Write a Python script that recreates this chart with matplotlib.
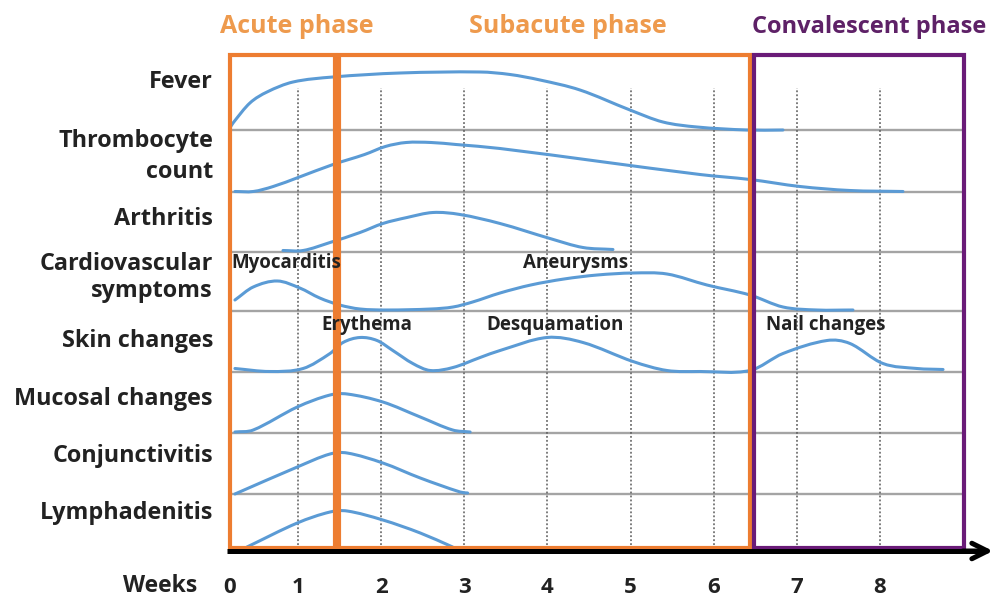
import matplotlib
matplotlib.use("Agg")
import matplotlib.pyplot as plt
from matplotlib.path import Path
from matplotlib.patches import PathPatch, Rectangle
import numpy as np

plt.rcParams['font.family'] = ['Open Sans', 'DejaVu Sans']

# ---------------- data (weeks, height in px above the row baseline) ----------------
row_labels = ["Fever", "Thrombocyte\ncount", "Arthritis", "Cardiovascular\nsymptoms",
              "Skin changes", "Mucosal changes", "Conjunctivitis", "Lymphadenitis"]

fever_w = [0.18, 0.217, 0.42, 0.626, 0.939, 1.42, 2.226, 3.189, 3.55, 3.911, 4.392, 4.994, 5.39, 5.80, 6.402, 6.835]
fever_h = [2, 7, 27, 38, 48, 53, 57, 58, 55.5, 50, 40, 20, 8, 3, 0, 0]

thrombo_w = [0.24, 0.46, 0.70, 1.0, 1.42, 1.80, 2.05, 2.3, 2.6, 2.9, 3.43, 4.633, 5.836, 6.438, 7.04, 7.641, 8.279]
thrombo_h = [0, 0, 5, 14, 27, 37, 45, 49, 49, 47, 43, 30, 17, 12, 5, 1, 0]

arthritis_w = [0.818, 1.06, 1.384, 1.745, 2.02, 2.31, 2.623, 2.948, 3.43, 4.031, 4.428, 4.789]
arthritis_h = [1, 1, 9, 19, 28, 34, 39, 37, 28, 13, 4, 2]

cardio_w = [0.24, 0.46, 0.75, 1.02, 1.26, 1.50, 1.745, 2.07, 2.6, 2.864, 3.10, 3.43, 3.8, 4.2, 4.6, 5.03,
            5.439, 5.92, 6.438, 6.835, 7.244, 7.677]
cardio_h = [11, 24, 30, 23, 13, 6, 2, 1, 2, 4, 9, 18, 26, 32, 36, 38, 37, 26, 16, 4, 1, 1]

skin_w = [0.24, 0.66, 1.06, 1.384, 1.54, 1.745, 1.95, 2.14, 2.38, 2.59, 2.864, 3.19, 3.43, 3.995, 4.428,
          5.03, 5.439, 5.836, 6.438, 6.835, 7.365, 7.641, 8.038, 8.448, 8.761]
skin_h = [3, 0, 3, 18, 29, 34, 31, 21, 8, 1, 4, 14, 21, 34, 29, 10, 1, 0, 1, 18, 31, 28, 8, 3, 2]

mucosal_w = [0.24, 0.46, 0.99, 1.384, 1.59, 2.02, 2.47, 2.86, 3.07]
mucosal_h = [1, 3, 26, 38, 39, 31, 16, 3, 1]

conj_w = [0.24, 0.99, 1.384, 1.59, 2.02, 2.47, 2.95, 3.04]
conj_h = [0, 27, 40, 41, 31, 16, 2, 1]

lymph_w = [0.385, 0.99, 1.384, 1.59, 2.02, 2.47, 2.86]
lymph_h = [2, 26, 37, 38, 29, 16, 2]

annotation_texts = ["Myocarditis", "Aneurysms", "Erythema", "Desquamation", "Nail changes"]
annotation_rows = [3, 3, 4, 4, 4]

week_ticks = [0, 1, 2, 3, 4, 5, 6, 7, 8]

phases = ["Acute phase", "Subacute phase", "Convalescent phase"]

# ---------------- layout (figure pixel space: y measured from bottom) ----------------
W, H = 993, 599
px0, scale = 215.0, 83.1          # x pixel = px0 + scale * week
row_baselines = [469, 407.5, 347.5, 288, 227.5, 166, 105, 50]
label_baselines_py = [[88], [147, 178], [225], [270, 297], [347], [405], [462], [519]]
annotation_x_px = [231, 576, 367, 555, 826]
annotation_ha = ["left", "center", "center", "center", "center"]
annotation_base_py = [268, 268, 330, 330, 330]
phase_bounds = [(0.18, 1.44), (1.49, 6.44), (6.49, 9.01)]
phase_center_px = [297, 568, 869]
phase_sizes = [18, 18, 17]


def wk(px):
    return (px - px0) / scale


fig = plt.figure(figsize=(W / 100, H / 100), dpi=100)
ax = fig.add_axes([0, 0, 1, 1])
ax.set_xlim(wk(0), wk(W))
ax.set_ylim(0, H)
ax.axis('off')

x_origin, x_end = 0.18, 9.01
BLUE = "#5B9BD5"
ORANGE = "#ED7D31"
PURPLE = "#6A1B78"
TXT = "#222222"

# gray row separators
for b in row_baselines[:-1]:
    ax.plot([x_origin, x_end], [b, b], color="#a4a4a4", lw=1.7, zorder=1, solid_capstyle='butt')

# dotted week lines
for w in range(1, 9):
    ax.plot([w, w], [50, 511], color="#5a5a5a", lw=1.1, ls=(0, (1.2, 1.4)), zorder=1.5)


def smooth_path(xs, ys):
    """Cubic Hermite curve through the read points (x used as parameter)."""
    x = np.asarray(xs, float)
    y = np.asarray(ys, float)
    n = len(x)
    m = np.zeros(n)
    for i in range(n):
        if i == 0:
            m[i] = (y[1] - y[0]) / (x[1] - x[0])
        elif i == n - 1:
            m[i] = (y[-1] - y[-2]) / (x[-1] - x[-2])
        else:
            m[i] = (y[i + 1] - y[i - 1]) / (x[i + 1] - x[i - 1])
    verts = [(x[0], y[0])]
    codes = [Path.MOVETO]
    for i in range(n - 1):
        dx = x[i + 1] - x[i]
        verts += [(x[i] + dx / 3, y[i] + m[i] * dx / 3),
                  (x[i + 1] - dx / 3, y[i + 1] - m[i + 1] * dx / 3),
                  (x[i + 1], y[i + 1])]
        codes += [Path.CURVE4] * 3
    return Path(verts, codes)


curves = [(fever_w, fever_h), (thrombo_w, thrombo_h), (arthritis_w, arthritis_h),
          (cardio_w, cardio_h), (skin_w, skin_h), (mucosal_w, mucosal_h),
          (conj_w, conj_h), (lymph_w, lymph_h)]
for r, (ws, hs) in enumerate(curves):
    base = row_baselines[r]
    path = smooth_path(ws, [base + h for h in hs])
    ax.add_patch(PathPatch(path, facecolor='none', edgecolor=BLUE, lw=2.2, zorder=3,
                           capstyle='round'))

# phase boxes
box_bottom, box_top = 51, 544
for (a, b), col in zip(phase_bounds, [ORANGE, ORANGE, PURPLE]):
    ax.add_patch(Rectangle((a, box_bottom), b - a, box_top - box_bottom, fill=False,
                           edgecolor=col, lw=3.0, zorder=4, joinstyle='miter'))

# axis arrow
ax.plot([x_origin - 0.03, 9.2], [48, 48], color="black", lw=3.6, zorder=5, solid_capstyle='butt')
ax.annotate("", xy=(wk(993), 48), xytext=(9.0, 48),
            arrowprops=dict(arrowstyle="->", lw=3.6, color="black", mutation_scale=28,
                            shrinkA=0, shrinkB=0), zorder=5)

# phase titles
phase_colors = ["#EE9A4D", "#EE9A4D", "#5E2167"]
for t, cx, c, fs in zip(phases, phase_center_px, phase_colors, phase_sizes):
    ax.text(wk(cx), H - 33, t, ha='center', va='baseline', fontsize=fs, fontweight='bold', color=c)

# row labels
label_x = wk(213)
for lab, bases in zip(row_labels, label_baselines_py):
    for line, bpy in zip(lab.split("\n"), bases):
        ax.text(label_x, H - bpy, line, ha='right', va='baseline', fontsize=16.8,
                fontweight='bold', color=TXT)

# annotations
for t, xp, ha, bpy in zip(annotation_texts, annotation_x_px, annotation_ha, annotation_base_py):
    ax.text(wk(xp), H - bpy, t, ha=ha, va='baseline', fontsize=13.5, fontweight='bold',
            color=TXT, zorder=6)

# week tick labels
for t in week_ticks:
    p = x_origin if t == 0 else t
    ax.text(p, H - 593, str(t), ha='center', va='baseline', fontsize=16, fontweight='bold', color=TXT)
ax.text(wk(197), H - 592, "Weeks", ha='right', va='baseline', fontsize=16.5,
        fontweight='bold', color=TXT)

fig.savefig("out.png", dpi=100, facecolor='white')
